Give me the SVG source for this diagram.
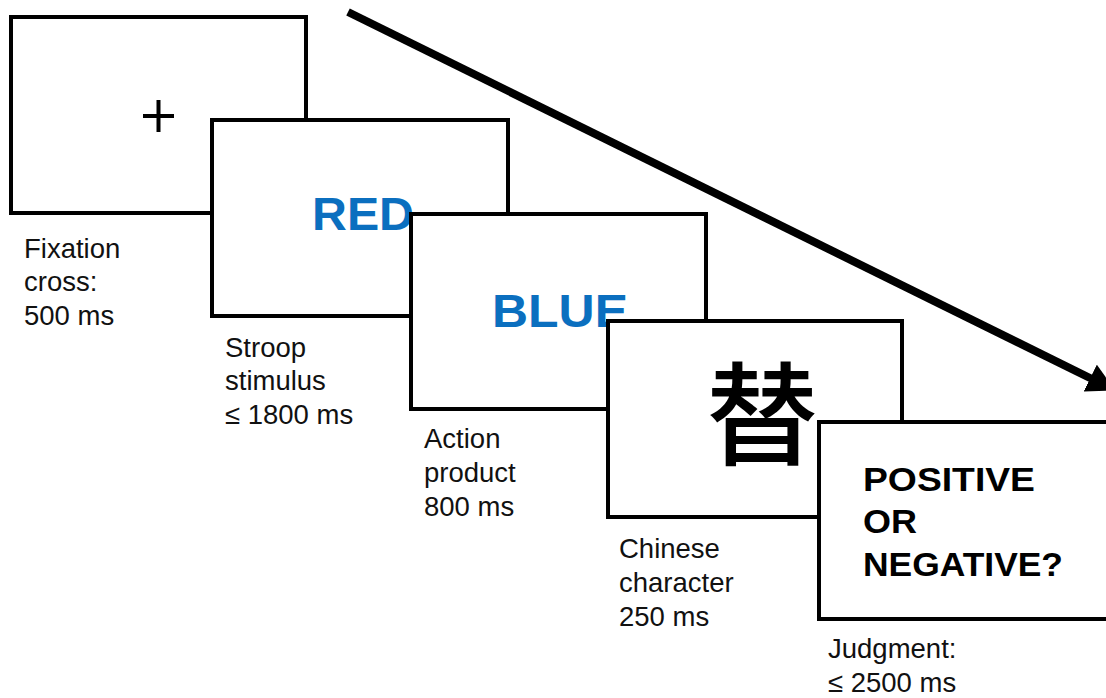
<svg xmlns="http://www.w3.org/2000/svg" width="1106" height="698" viewBox="0 0 1106 698">
  <style>
    .box { fill: #ffffff; stroke: #000000; stroke-width: 4; }
    .lbl { font-family: "Liberation Sans", Arial, sans-serif; font-size: 27.5px; fill: #111111; }
    .word { font-family: "Liberation Sans", Arial, sans-serif; font-weight: bold; font-size: 46px; fill: #0B6FBF; }
    .judge { font-family: "Liberation Sans", Arial, sans-serif; font-weight: bold; font-size: 33px; fill: #000000; }
    .cjk { font-family: "Noto Sans CJK SC", sans-serif; font-weight: 500; font-size: 112px; fill: #000000; }
    .arrow { stroke: #000000; stroke-width: 8; fill: none; }
  </style>
  <defs>
    <marker id="head" viewBox="0 0 28 30" refX="2" refY="15" markerWidth="28" markerHeight="30" markerUnits="userSpaceOnUse" orient="auto">
      <path d="M0,0 L28,15 L0,30 z" fill="#000000"/>
    </marker>
  </defs>
  <rect width="1106" height="698" fill="#ffffff"/>

  <g id="fixation">
    <rect class="box" x="11" y="17" width="295" height="196"/>
    <path d="M143,116 H174 M158.5,100 V132" stroke="#000000" stroke-width="4" fill="none"/>
    <text class="lbl" x="24" y="258">Fixation</text>
    <text class="lbl" x="24" y="291">cross:</text>
    <text class="lbl" x="24" y="325">500 ms</text>
  </g>

  <g id="stroop">
    <rect class="box" x="212" y="120" width="296" height="196"/>
    <text class="word" x="312" y="230" textLength="102" lengthAdjust="spacingAndGlyphs">RED</text>
    <text class="lbl" x="225" y="357">Stroop</text>
    <text class="lbl" x="225" y="390">stimulus</text>
    <text class="lbl" x="225" y="424">≤ 1800 ms</text>
  </g>

  <g id="action">
    <rect class="box" x="411" y="214" width="295" height="195"/>
    <text class="word" x="492" y="327" textLength="136" lengthAdjust="spacingAndGlyphs">BLUE</text>
    <text class="lbl" x="424" y="448">Action</text>
    <text class="lbl" x="424" y="482">product</text>
    <text class="lbl" x="424" y="516">800 ms</text>
  </g>

  <g id="chinese">
    <rect class="box" x="608" y="321" width="294" height="196"/>
    <text class="cjk" x="762" y="457" text-anchor="middle">替</text>
    <text class="lbl" x="619" y="558">Chinese</text>
    <text class="lbl" x="619" y="592">character</text>
    <text class="lbl" x="619" y="626">250 ms</text>
  </g>

  <g id="judgment">
    <rect class="box" x="819" y="422" width="296" height="197"/>
    <text class="judge" x="863" y="491" textLength="172" lengthAdjust="spacingAndGlyphs">POSITIVE</text>
    <text class="judge" x="863" y="533" textLength="54" lengthAdjust="spacingAndGlyphs">OR</text>
    <text class="judge" x="863" y="576" textLength="200" lengthAdjust="spacingAndGlyphs">NEGATIVE?</text>
    <text class="lbl" x="828" y="658">Judgment:</text>
    <text class="lbl" x="828" y="692">≤ 2500 ms</text>
  </g>

  <g id="connectors">
    <line class="arrow" x1="348" y1="12" x2="1092" y2="379" marker-end="url(#head)"/>
  </g>
</svg>
